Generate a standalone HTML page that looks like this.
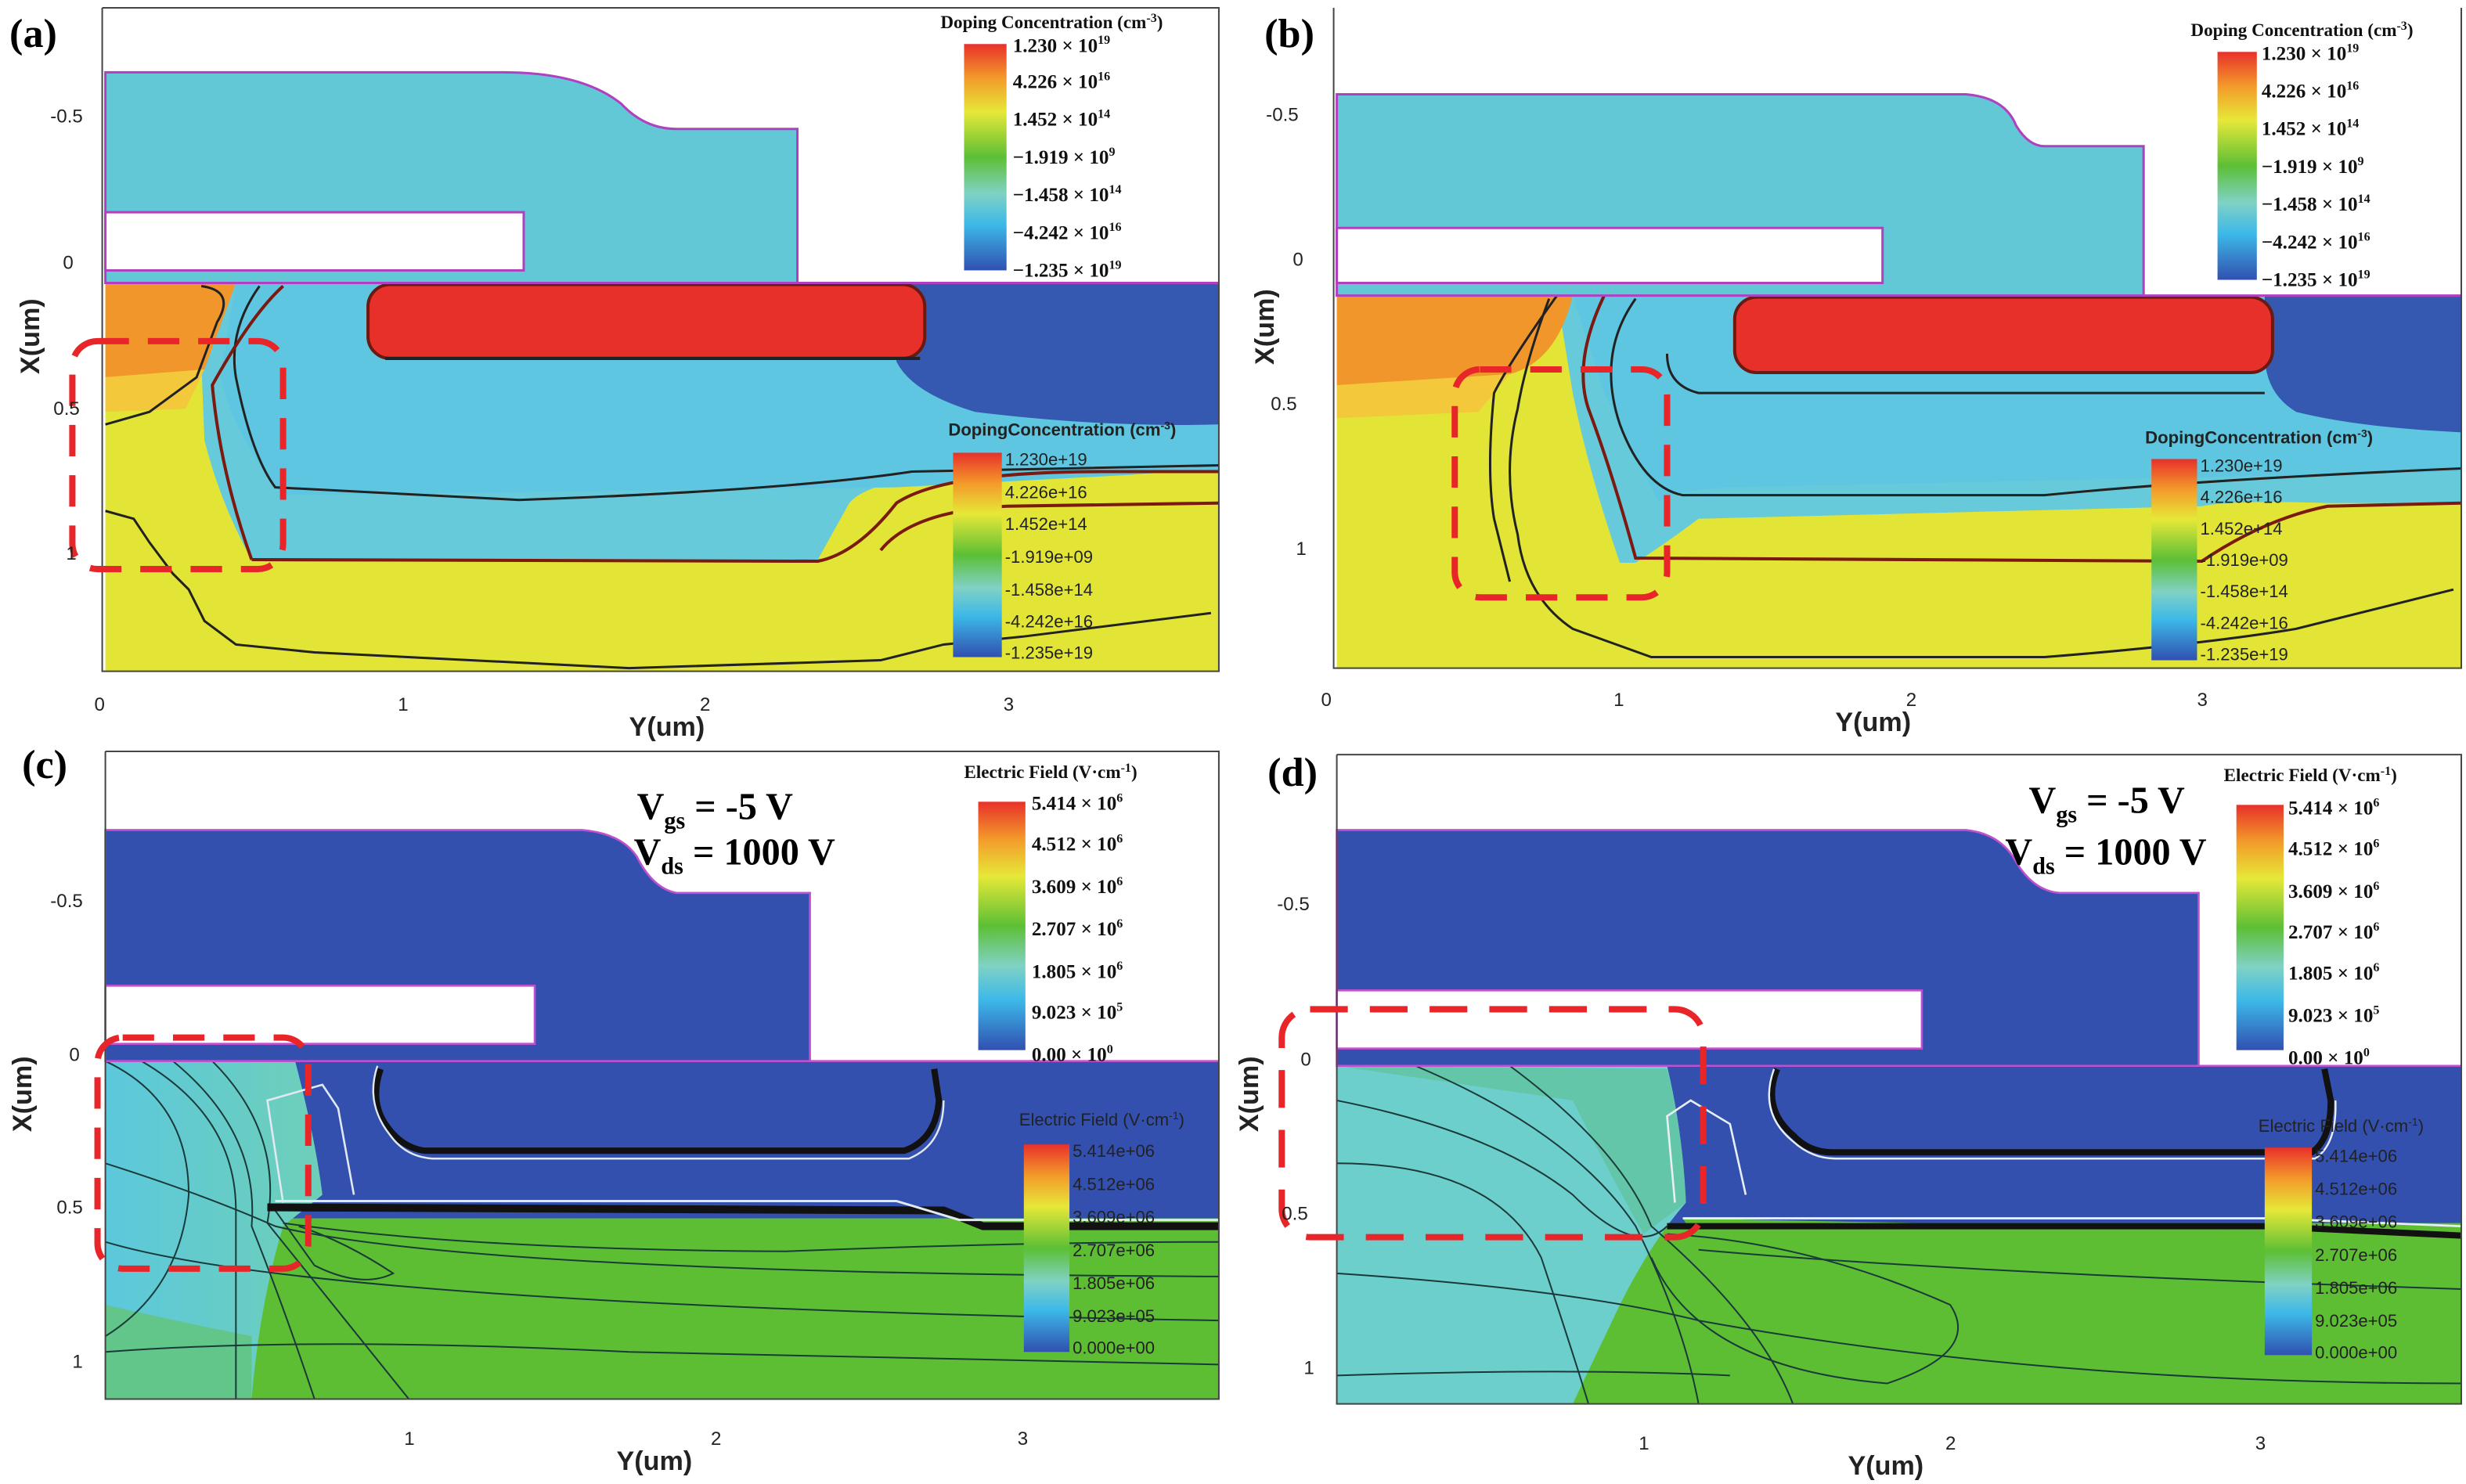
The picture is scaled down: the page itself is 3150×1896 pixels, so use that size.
<!DOCTYPE html>
<html><head><meta charset="utf-8"><style>
html,body{margin:0;padding:0;background:#fff;}
svg{display:block;}
text{font-family:"Liberation Serif",serif;}
.ax{font-family:"Liberation Sans",sans-serif;font-size:12px;fill:#222;}
.axl{font-family:"Liberation Sans",sans-serif;font-size:17px;font-weight:bold;fill:#222;}
.pl{font-size:26px;font-weight:bold;fill:#000;}
.cbt{font-size:11.5px;font-weight:bold;fill:#111;}
.cbl{font-size:12.5px;font-weight:bold;fill:#111;}
.cbs{font-family:"Liberation Sans",sans-serif;font-size:11px;fill:#222;}
.vt{font-size:24px;font-weight:bold;fill:#000;}
</style></head><body>
<svg width="3150" height="1896" viewBox="0 0 1568 944" preserveAspectRatio="none" xmlns="http://www.w3.org/2000/svg">
<defs>
<linearGradient id="cb" x1="0" y1="0" x2="0" y2="1">
<stop offset="0" stop-color="#e8302a"/><stop offset="0.15" stop-color="#f39a2a"/><stop offset="0.3" stop-color="#e6e838"/>
<stop offset="0.5" stop-color="#5cbf35"/><stop offset="0.66" stop-color="#80d2c4"/><stop offset="0.8" stop-color="#3cb8e8"/><stop offset="1" stop-color="#3050b0"/>
</linearGradient>
<linearGradient id="ecyan" x1="0" y1="0" x2="1" y2="0">
<stop offset="0" stop-color="#5cc8dc"/><stop offset="1" stop-color="#6ecfb8"/></linearGradient>
</defs>
<rect width="1568" height="944" fill="#fff"/>

<!-- ================= (a) ================= -->
<text class="pl" x="6" y="30">(a)</text>
<g>
<rect x="67" y="180" width="708" height="247" fill="#e2e535"/>
<path d="M150,180 H775 V300 L700,300 Q560,296 540,320 L520,356 L160,356 Q140,320 130,280 L128,230 Z" fill="#66cadb"/>
<path d="M150,180 H775 V300 Q740,300 720,302 L570,310 L180,315 Q150,280 140,240 Z" fill="#5ec6e0"/>
<path d="M67,180 H150 L130,235 L67,240 Z" fill="#f0962a"/>
<path d="M67,240 L130,235 L118,260 L67,262 Z" fill="#f3c83a"/>
<path d="M570,180 H775 V270 Q700,272 620,262 Q580,250 570,230 Z" fill="#3558b0"/>
<rect x="234" y="181" width="354" height="47" rx="14" fill="#e8302a" stroke="#6a1a10" stroke-width="2"/>
<path d="M245,228 H585" stroke="#222" stroke-width="2" fill="none"/>
<path d="M160,356 L520,357 Q545,352 570,320 Q600,300 700,300 L775,300" stroke="#7a1a10" stroke-width="2" fill="none"/>
<path d="M128,182 Q150,185 138,205 L125,240 L95,262 L67,270" stroke="#222" stroke-width="1.5" fill="none"/>
<path d="M165,182 Q145,210 150,240 Q160,290 175,310 L330,318 Q500,312 580,300 L775,296" stroke="#222" stroke-width="1.5" fill="none"/>
<path d="M180,182 Q160,200 135,245 Q140,300 160,356" stroke="#7a1a10" stroke-width="2" fill="none"/>
<path d="M67,325 L85,330 L95,345 L110,365 L120,375 L130,395 L150,410 L200,415 L400,425 L560,420 L600,410 L650,405 L770,390" stroke="#222" stroke-width="1.5" fill="none"/>
<path d="M560,350 Q580,325 640,322 L775,320" stroke="#7a1a10" stroke-width="2" fill="none"/>
<path d="M67,46 H320 Q370,46 395,66 Q410,82 430,82 H507 V180 H67 Z" fill="#63c8d6" stroke="#b040c0" stroke-width="1.5"/>
<rect x="67" y="135" width="266" height="37" fill="#fff" stroke="#b040c0" stroke-width="1.5"/>
<path d="M507,180 H775" stroke="#b040c0" stroke-width="1.5"/>
<path d="M65,5 V427 H775 V5 H65" fill="none" stroke="#444" stroke-width="1"/>
<rect x="613" y="28" width="27" height="144" fill="url(#cb)"/>
<text class="cbt" x="598" y="18">Doping Concentration (cm<tspan font-size="8" dy="-4">-3</tspan><tspan dy="4">)</tspan></text>
<text class="cbl" x="644" y="33">1.230 × 10<tspan font-size="8" dy="-5">19</tspan></text>
<text class="cbl" x="644" y="56">4.226 × 10<tspan font-size="8" dy="-5">16</tspan></text>
<text class="cbl" x="644" y="80">1.452 × 10<tspan font-size="8" dy="-5">14</tspan></text>
<text class="cbl" x="644" y="104">−1.919 × 10<tspan font-size="8" dy="-5">9</tspan></text>
<text class="cbl" x="644" y="128">−1.458 × 10<tspan font-size="8" dy="-5">14</tspan></text>
<text class="cbl" x="644" y="152">−4.242 × 10<tspan font-size="8" dy="-5">16</tspan></text>
<text class="cbl" x="644" y="176">−1.235 × 10<tspan font-size="8" dy="-5">19</tspan></text>
<rect x="606" y="288" width="31" height="130" fill="url(#cb)"/>
<text class="cbs" x="603" y="277" font-weight="bold">DopingConcentration (cm<tspan font-size="7" dy="-4">-3</tspan><tspan dy="4">)</tspan></text>
<text class="cbs" x="639" y="296">1.230e+19</text>
<text class="cbs" x="639" y="317">4.226e+16</text>
<text class="cbs" x="639" y="337">1.452e+14</text>
<text class="cbs" x="639" y="358">-1.919e+09</text>
<text class="cbs" x="639" y="379">-1.458e+14</text>
<text class="cbs" x="639" y="399">-4.242e+16</text>
<text class="cbs" x="639" y="419">-1.235e+19</text>
<rect x="46" y="217" width="134" height="145" rx="16" fill="none" stroke="#e8262a" stroke-width="4" stroke-dasharray="20,12"/>
<text class="ax" x="32" y="78">-0.5</text><text class="ax" x="40" y="171">0</text><text class="ax" x="34" y="264">0.5</text><text class="ax" x="42" y="356">1</text>
<text class="ax" x="60" y="452">0</text><text class="ax" x="253" y="452">1</text><text class="ax" x="445" y="452">2</text><text class="ax" x="638" y="452">3</text>
<text class="axl" x="400" y="468">Y(um)</text>
<text class="axl" transform="translate(25,238) rotate(-90)">X(um)</text>
</g>

<!-- ================= (b) ================= -->
<text class="pl" x="804" y="30">(b)</text>
<g>
<rect x="850" y="188" width="715" height="237" fill="#e2e535"/>
<path d="M850,188 H1565 V320 L1480,320 Q1420,318 1400,322 L1080,330 Q1060,345 1040,358 L1030,358 Q1010,300 1000,250 L990,188 Z" fill="#66cadb"/>
<path d="M1000,188 H1565 V300 L1100,310 Q1060,312 1055,320 L1020,250 Z" fill="#5ec6e0"/>
<path d="M850,188 H1000 Q990,230 960,238 L850,245 Z" fill="#f0962a"/>
<path d="M850,245 L960,238 L940,262 L850,266 Z" fill="#f3c83a"/>
<path d="M1440,188 H1565 V275 Q1500,272 1460,262 Q1440,250 1440,225 Z" fill="#3558b0"/>
<rect x="1103" y="189" width="342" height="48" rx="14" fill="#e8302a" stroke="#6a1a10" stroke-width="2"/>
<path d="M1020,188 Q1000,230 1010,260 Q1025,300 1040,355 L1400,357 Q1440,330 1480,322 L1565,320" stroke="#7a1a10" stroke-width="2" fill="none"/>
<path d="M1040,190 Q1015,225 1030,270 Q1045,310 1070,315 L1300,315 Q1400,305 1565,298" stroke="#222" stroke-width="1.5" fill="none"/>
<path d="M985,190 Q970,230 965,260 Q955,300 965,340 Q970,380 1000,400 L1050,418 L1300,418 Q1400,410 1460,400 L1560,375" stroke="#222" stroke-width="1.5" fill="none"/>
<path d="M990,188 Q960,230 950,250 Q945,300 950,330 L960,370" stroke="#222" stroke-width="1.5" fill="none"/>
<path d="M1060,225 Q1060,245 1080,250 L1440,250" stroke="#222" stroke-width="1.5" fill="none"/>
<path d="M850,60 H1250 Q1275,62 1282,80 Q1290,93 1300,93 H1363 V188 H850 Z" fill="#63c8d6" stroke="#b040c0" stroke-width="1.5"/>
<rect x="850" y="145" width="347" height="35" fill="#fff" stroke="#b040c0" stroke-width="1.5"/>
<path d="M1363,188 H1565" stroke="#b040c0" stroke-width="1.5"/>
<path d="M848,5 V425 H1565 V5" fill="none" stroke="#444" stroke-width="1"/>
<rect x="1410" y="33" width="25" height="145" fill="url(#cb)"/>
<text class="cbt" x="1393" y="23">Doping Concentration (cm<tspan font-size="8" dy="-4">-3</tspan><tspan dy="4">)</tspan></text>
<text class="cbl" x="1438" y="38">1.230 × 10<tspan font-size="8" dy="-5">19</tspan></text>
<text class="cbl" x="1438" y="62">4.226 × 10<tspan font-size="8" dy="-5">16</tspan></text>
<text class="cbl" x="1438" y="86">1.452 × 10<tspan font-size="8" dy="-5">14</tspan></text>
<text class="cbl" x="1438" y="110">−1.919 × 10<tspan font-size="8" dy="-5">9</tspan></text>
<text class="cbl" x="1438" y="134">−1.458 × 10<tspan font-size="8" dy="-5">14</tspan></text>
<text class="cbl" x="1438" y="158">−4.242 × 10<tspan font-size="8" dy="-5">16</tspan></text>
<text class="cbl" x="1438" y="182">−1.235 × 10<tspan font-size="8" dy="-5">19</tspan></text>
<rect x="1368" y="292" width="29" height="128" fill="url(#cb)"/>
<text class="cbs" x="1364" y="282" font-weight="bold">DopingConcentration (cm<tspan font-size="7" dy="-4">-3</tspan><tspan dy="4">)</tspan></text>
<text class="cbs" x="1399" y="300">1.230e+19</text>
<text class="cbs" x="1399" y="320">4.226e+16</text>
<text class="cbs" x="1399" y="340">1.452e+14</text>
<text class="cbs" x="1399" y="360">-1.919e+09</text>
<text class="cbs" x="1399" y="380">-1.458e+14</text>
<text class="cbs" x="1399" y="400">-4.242e+16</text>
<text class="cbs" x="1399" y="420">-1.235e+19</text>
<rect x="925" y="235" width="135" height="145" rx="16" fill="none" stroke="#e8262a" stroke-width="4" stroke-dasharray="20,12"/>
<text class="ax" x="805" y="77">-0.5</text><text class="ax" x="822" y="169">0</text><text class="ax" x="808" y="261">0.5</text><text class="ax" x="824" y="353">1</text>
<text class="ax" x="840" y="449">0</text><text class="ax" x="1026" y="449">1</text><text class="ax" x="1212" y="449">2</text><text class="ax" x="1397" y="449">3</text>
<text class="axl" x="1167" y="465">Y(um)</text>
<text class="axl" transform="translate(810,232) rotate(-90)">X(um)</text>
</g>

<!-- ================= (c) ================= -->
<text class="pl" x="14" y="495">(c)</text>
<g>
<rect x="67" y="675" width="708" height="215" fill="#5dbe34"/>
<rect x="67" y="675" width="708" height="100" fill="#3450ae"/>
<path d="M100,775 L775,778 V790 L180,790 Z" fill="#5dbe34"/>
<path d="M67,665 H185 Q200,720 205,760 L180,780 Q165,830 160,890 H67 Z" fill="url(#ecyan)"/>
<path d="M67,830 Q110,840 160,850 L160,890 H67 Z" fill="#62c58a"/>
<path d="M67,665 H185 L170,675 H67 Z" fill="#5dbe34"/>
<path d="M67,675 Q120,700 120,760 Q115,820 67,850" stroke="#1a3a3a" stroke-width="1" fill="none"/>
<path d="M90,675 Q150,710 150,770 L150,890" stroke="#1a3a3a" stroke-width="1" fill="none"/>
<path d="M110,675 Q165,720 160,780 Q180,830 200,890" stroke="#1a3a3a" stroke-width="1" fill="none"/>
<path d="M135,675 Q180,720 170,778 L260,890" stroke="#1a3a3a" stroke-width="1" fill="none"/>
<path d="M67,740 Q130,760 175,780 Q300,810 775,812" stroke="#1a3a3a" stroke-width="1" fill="none"/>
<path d="M67,790 Q200,830 775,840" stroke="#1a3a3a" stroke-width="1" fill="none"/>
<path d="M67,860 Q200,850 400,860 L775,868" stroke="#1a3a3a" stroke-width="1" fill="none"/>
<path d="M180,778 Q300,795 500,796 Q650,790 775,790" stroke="#1a3a3a" stroke-width="1" fill="none"/>
<path d="M175,770 L200,805 Q230,820 250,810 Q220,790 190,780" stroke="#1a3a3a" stroke-width="1" fill="none"/>
<path d="M170,768 L600,770 L625,780 L775,780" stroke="#111" stroke-width="5" fill="none"/>
<path d="M175,764 H570 L610,776 H775" stroke="#e0e8f0" stroke-width="1.5" fill="none"/>
<path d="M180,765 L170,700 L205,690 L215,705 L225,760" stroke="#e0e8f0" stroke-width="1.3" fill="none"/>
<path d="M242,680 Q235,700 245,715 Q255,730 270,732 H575 Q595,725 597,700 L594,680" stroke="#111" stroke-width="4" fill="none"/>
<path d="M240,678 Q232,702 248,722 Q258,736 275,737 H578 Q600,728 600,700" stroke="#e0e8f0" stroke-width="1.2" fill="none"/>
<path d="M67,528 H370 Q395,530 405,545 Q415,565 430,568 H515 V675 H67 Z" fill="#3450ae" stroke="#c050d0" stroke-width="1.3"/>
<rect x="67" y="627" width="273" height="37" fill="#fff" stroke="#c050d0" stroke-width="1.3"/>
<path d="M515,675 H775" stroke="#c050d0" stroke-width="1.3"/>
<path d="M67,478 V890 H775 V478 H67" fill="none" stroke="#444" stroke-width="1"/>
<text class="vt" x="405" y="521">V<tspan font-size="15" dy="6">gs</tspan><tspan dy="-6"> = -5 V</tspan></text>
<text class="vt" x="403" y="550">V<tspan font-size="15" dy="6">ds</tspan><tspan dy="-6"> = 1000 V</tspan></text>
<rect x="622" y="510" width="30" height="158" fill="url(#cb)"/>
<text class="cbt" x="613" y="495">Electric Field (V·cm<tspan font-size="8" dy="-4">-1</tspan><tspan dy="4">)</tspan></text>
<text class="cbl" x="656" y="515">5.414 × 10<tspan font-size="8" dy="-5">6</tspan></text>
<text class="cbl" x="656" y="541">4.512 × 10<tspan font-size="8" dy="-5">6</tspan></text>
<text class="cbl" x="656" y="568">3.609 × 10<tspan font-size="8" dy="-5">6</tspan></text>
<text class="cbl" x="656" y="595">2.707 × 10<tspan font-size="8" dy="-5">6</tspan></text>
<text class="cbl" x="656" y="622">1.805 × 10<tspan font-size="8" dy="-5">6</tspan></text>
<text class="cbl" x="656" y="648">9.023 × 10<tspan font-size="8" dy="-5">5</tspan></text>
<text class="cbl" x="656" y="675">0.00 × 10<tspan font-size="8" dy="-5">0</tspan></text>
<rect x="651" y="728" width="29" height="132" fill="url(#cb)"/>
<text class="cbs" x="648" y="716" font-size="9">Electric Field (V·cm<tspan font-size="7" dy="-4">-1</tspan><tspan dy="4">)</tspan></text>
<text class="cbs" x="682" y="736" font-size="10">5.414e+06</text>
<text class="cbs" x="682" y="757" font-size="10">4.512e+06</text>
<text class="cbs" x="682" y="778" font-size="10">3.609e+06</text>
<text class="cbs" x="682" y="799" font-size="10">2.707e+06</text>
<text class="cbs" x="682" y="820" font-size="10">1.805e+06</text>
<text class="cbs" x="682" y="841" font-size="10">9.023e+05</text>
<text class="cbs" x="682" y="861" font-size="10">0.000e+00</text>
<rect x="62" y="660" width="134" height="147" rx="16" fill="none" stroke="#e8262a" stroke-width="4" stroke-dasharray="20,12"/>
<text class="ax" x="32" y="577">-0.5</text><text class="ax" x="44" y="675">0</text><text class="ax" x="36" y="772">0.5</text><text class="ax" x="46" y="870">1</text>
<text class="ax" x="257" y="919">1</text><text class="ax" x="452" y="919">2</text><text class="ax" x="647" y="919">3</text>
<text class="axl" x="392" y="935">Y(um)</text>
<text class="axl" transform="translate(20,720) rotate(-90)">X(um)</text>
</g>

<!-- ================= (d) ================= -->
<text class="pl" x="806" y="500">(d)</text>
<g>
<rect x="850" y="678" width="715" height="215" fill="#5dbe34"/>
<rect x="850" y="678" width="715" height="100" fill="#3450ae"/>
<path d="M1070,775 L1565,785 V795 L1080,790 Z" fill="#5dbe34"/>
<path d="M850,678 H1060 Q1070,720 1072,765 Q1050,790 1030,830 L1000,893 H850 Z" fill="#6dcfcc"/>
<path d="M850,678 L1060,680 Q1070,720 1072,765 L1045,785 Q1020,740 1000,700 Z" fill="#5fbf90" opacity="0.6"/>
<rect x="850" y="668" width="220" height="10" fill="#5dbe34"/>
<rect x="850" y="668" width="40" height="10" fill="#e8302a"/>
<rect x="890" y="668" width="50" height="10" fill="#f0a02a"/>
<rect x="940" y="668" width="50" height="10" fill="#d8e038"/>
<path d="M850,700 Q950,720 1000,760 Q1040,800 1060,780" stroke="#1a3a3a" stroke-width="1" fill="none"/>
<path d="M850,740 Q950,740 980,800 Q1000,860 1010,893" stroke="#1a3a3a" stroke-width="1" fill="none"/>
<path d="M900,678 Q1000,720 1040,780 Q1070,840 1080,893" stroke="#1a3a3a" stroke-width="1" fill="none"/>
<path d="M960,678 Q1030,730 1050,780 Q1120,840 1140,893" stroke="#1a3a3a" stroke-width="1" fill="none"/>
<path d="M1060,785 Q1150,790 1240,830 Q1260,860 1200,880 Q1080,870 1050,800" stroke="#1a3a3a" stroke-width="1" fill="none"/>
<path d="M850,810 Q1000,820 1080,840 Q1300,880 1565,880" stroke="#1a3a3a" stroke-width="1" fill="none"/>
<path d="M850,875 Q1000,870 1100,875" stroke="#1a3a3a" stroke-width="1" fill="none"/>
<path d="M1080,795 Q1250,810 1565,820" stroke="#1a3a3a" stroke-width="1" fill="none"/>
<path d="M1060,780 H1440 L1565,786" stroke="#111" stroke-width="4" fill="none"/>
<path d="M1070,775 H1440 L1565,780" stroke="#e8eef5" stroke-width="1.4" fill="none"/>
<path d="M1065,765 L1060,710 L1075,700 L1100,715 L1110,760" stroke="#e8eef5" stroke-width="1.3" fill="none"/>
<path d="M1130,680 Q1120,705 1140,722 Q1150,733 1165,733 H1470 Q1482,725 1482,700 L1478,680" stroke="#111" stroke-width="4" fill="none"/>
<path d="M1128,680 Q1118,708 1140,726 Q1152,737 1167,737 H1472 Q1486,728 1485,700" stroke="#e8eef5" stroke-width="1.2" fill="none"/>
<path d="M850,528 H1250 Q1270,530 1280,545 Q1292,567 1310,568 H1398 V678 H850 Z" fill="#3450ae" stroke="#c050d0" stroke-width="1.3"/>
<rect x="850" y="630" width="372" height="37" fill="#fff" stroke="#c050d0" stroke-width="1.3"/>
<path d="M1398,678 H1565" stroke="#c050d0" stroke-width="1.3"/>
<path d="M850,480 V893 H1565 V480 H850" fill="none" stroke="#444" stroke-width="1"/>
<text class="vt" x="1290" y="517">V<tspan font-size="15" dy="6">gs</tspan><tspan dy="-6"> = -5 V</tspan></text>
<text class="vt" x="1275" y="550">V<tspan font-size="15" dy="6">ds</tspan><tspan dy="-6"> = 1000 V</tspan></text>
<rect x="1422" y="512" width="30" height="156" fill="url(#cb)"/>
<text class="cbt" x="1414" y="497">Electric Field (V·cm<tspan font-size="8" dy="-4">-1</tspan><tspan dy="4">)</tspan></text>
<text class="cbl" x="1455" y="518">5.414 × 10<tspan font-size="8" dy="-5">6</tspan></text>
<text class="cbl" x="1455" y="544">4.512 × 10<tspan font-size="8" dy="-5">6</tspan></text>
<text class="cbl" x="1455" y="571">3.609 × 10<tspan font-size="8" dy="-5">6</tspan></text>
<text class="cbl" x="1455" y="597">2.707 × 10<tspan font-size="8" dy="-5">6</tspan></text>
<text class="cbl" x="1455" y="623">1.805 × 10<tspan font-size="8" dy="-5">6</tspan></text>
<text class="cbl" x="1455" y="650">9.023 × 10<tspan font-size="8" dy="-5">5</tspan></text>
<text class="cbl" x="1455" y="677">0.00 × 10<tspan font-size="8" dy="-5">0</tspan></text>
<rect x="1440" y="730" width="30" height="132" fill="url(#cb)"/>
<text class="cbs" x="1436" y="720" font-size="10">Electric Field (V·cm<tspan font-size="7" dy="-4">-1</tspan><tspan dy="4">)</tspan></text>
<text class="cbs" x="1472" y="739" font-size="10">5.414e+06</text>
<text class="cbs" x="1472" y="760" font-size="10">4.512e+06</text>
<text class="cbs" x="1472" y="781" font-size="10">3.609e+06</text>
<text class="cbs" x="1472" y="802" font-size="10">2.707e+06</text>
<text class="cbs" x="1472" y="823" font-size="10">1.805e+06</text>
<text class="cbs" x="1472" y="844" font-size="10">9.023e+05</text>
<text class="cbs" x="1472" y="864" font-size="10">0.000e+00</text>
<rect x="815" y="642" width="268" height="145" rx="18" fill="none" stroke="#e8262a" stroke-width="4" stroke-dasharray="24,14"/>
<text class="ax" x="812" y="579">-0.5</text><text class="ax" x="827" y="678">0</text><text class="ax" x="815" y="776">0.5</text><text class="ax" x="829" y="874">1</text>
<text class="ax" x="1042" y="922">1</text><text class="ax" x="1237" y="922">2</text><text class="ax" x="1434" y="922">3</text>
<text class="axl" x="1175" y="938">Y(um)</text>
<text class="axl" transform="translate(800,720) rotate(-90)">X(um)</text>
</g>
</svg>
</body></html>
